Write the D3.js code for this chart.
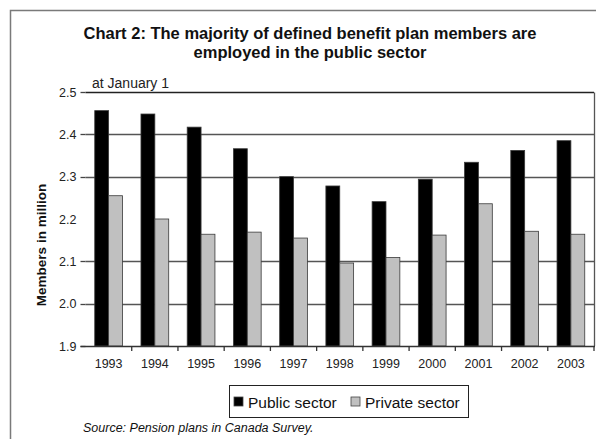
<!DOCTYPE html>
<html>
<head>
<meta charset="utf-8">
<script src="https://cdn.jsdelivr.net/npm/d3@7/dist/d3.min.js"></script>
<style>
  html, body { margin: 0; padding: 0; background: #fff; }
  svg { display: block; font-family: "Liberation Sans", Arial, sans-serif; }
</style>
</head>
<body>
<svg id="chart" width="596" height="439"></svg>
<script>
// Members of defined benefit plans, millions, at January 1
const years = ["1993", "1994", "1995", "1996", "1997", "1998", "1999", "2000", "2001", "2002", "2003"];
const publicSector  = [2.456, 2.448, 2.417, 2.366, 2.300, 2.278, 2.241, 2.294, 2.334, 2.362, 2.385];
const privateSector = [2.255, 2.200, 2.164, 2.169, 2.155, 2.096, 2.109, 2.162, 2.236, 2.171, 2.164];
const seriesNames = ["Public sector", "Private sector"];
const seriesColors = ["#000000", "#c0c0c0"];
const yTicks = [1.9, 2.0, 2.1, 2.2, 2.3, 2.4, 2.5];
const gridValues = [2.0, 2.1, 2.3, 2.4, 2.5];

const svg = d3.select("#chart");
const plot = { left: 85.5, right: 594, top: 92, bottom: 346 };

// outer frame
svg.append("path")
  .attr("d", "M10.5,439 L10.5,10.5 L596,10.5")
  .attr("fill", "none").attr("stroke", "#7a7a7a").attr("stroke-width", 1.5);

// title
const title = svg.append("text")
  .attr("x", 310).attr("text-anchor", "middle")
  .attr("font-weight", "bold").attr("font-size", 16.5).attr("fill", "#111");
title.append("tspan").attr("x", 310).attr("y", 39).text("Chart 2: The majority of defined benefit plan members are");
title.append("tspan").attr("x", 310).attr("y", 58).text("employed in the public sector");

svg.append("text").attr("x", 92).attr("y", 88)
  .attr("font-size", 14).attr("fill", "#222").text("at January 1");

const x0 = d3.scaleBand().domain(years).range([plot.left, plot.right])
  .paddingInner(0.4).paddingOuter(0.2);
const x1 = d3.scaleBand().domain(seriesNames).range([0, x0.bandwidth()]);
const y = d3.scaleLinear().domain([1.9, 2.5]).range([plot.bottom, plot.top]);
const step = x0.step();

// gridlines
svg.append("g").selectAll("line").data(gridValues).join("line")
  .attr("x1", plot.left).attr("x2", plot.right)
  .attr("y1", d => Math.round(y(d)) + 0.5).attr("y2", d => Math.round(y(d)) + 0.5)
  .attr("stroke", d => d === 2.5 ? "#222" : "#555").attr("stroke-width", 1.3);

// right border of plot area
svg.append("line")
  .attr("x1", plot.right + 0.5).attr("x2", plot.right + 0.5)
  .attr("y1", Math.round(y(2.5)) + 0.5).attr("y2", plot.bottom)
  .attr("stroke", "#555").attr("stroke-width", 1.3);

// y axis labels and tick marks
const yAxis = d3.axisLeft(y).tickValues(yTicks).tickFormat(d3.format(".1f")).tickSize(0).tickPadding(9);
const gy = svg.append("g").attr("transform", `translate(${plot.left},0)`).call(yAxis);
gy.select(".domain").remove();
gy.selectAll("text").attr("font-size", 12.5).attr("fill", "#222").attr("font-family", "Liberation Sans, Arial, sans-serif");
svg.append("g").selectAll("line").data(yTicks.filter(v => v !== 2.2)).join("line")
  .attr("x1", plot.left - 5).attr("x2", plot.left)
  .attr("y1", d => Math.round(y(d)) + 0.5).attr("y2", d => Math.round(y(d)) + 0.5)
  .attr("stroke", "#444").attr("stroke-width", 1.3);

svg.append("text")
  .attr("transform", `translate(46,245) rotate(-90)`)
  .attr("text-anchor", "middle").attr("font-weight", "bold").attr("font-size", 13.5)
  .attr("fill", "#111").text("Members in million");

// bars
const rows = years.map((yr, i) => ({ year: yr, values: [publicSector[i], privateSector[i]] }));
const groups = svg.append("g").selectAll("g").data(rows).join("g")
  .attr("transform", d => `translate(${x0(d.year)},0)`);
groups.selectAll("rect").data(d => d.values.map((v, k) => ({ key: seriesNames[k], v, k })))
  .join("rect")
  .attr("x", d => x1(d.key))
  .attr("y", d => y(d.v))
  .attr("width", x1.bandwidth())
  .attr("height", d => y(1.9) - y(d.v))
  .attr("fill", d => seriesColors[d.k])
  .attr("stroke", "#3a3a3a")
  .attr("stroke-width", 0.8);

// x axis
const xAxis = d3.axisBottom(x0).tickSize(0).tickPadding(13);
const gx = svg.append("g").attr("transform", `translate(0,${plot.bottom})`).call(xAxis);
gx.select(".domain").remove();
gx.selectAll("text").attr("font-size", 12.5).attr("fill", "#222").attr("font-family", "Liberation Sans, Arial, sans-serif");
svg.append("line")
  .attr("x1", plot.left - 5).attr("x2", plot.right + 1)
  .attr("y1", plot.bottom + 0.5).attr("y2", plot.bottom + 0.5)
  .attr("stroke", "#333").attr("stroke-width", 1.3);
svg.append("g").selectAll("line").data(years).join("line")
  .attr("x1", d => x0(d) - step * 0.2 + step).attr("x2", d => x0(d) - step * 0.2 + step)
  .attr("y1", plot.bottom).attr("y2", plot.bottom + 5)
  .attr("stroke", "#333").attr("stroke-width", 1.3);

// legend
const legend = svg.append("g");
legend.append("rect").attr("x", 229.5).attr("y", 385.5).attr("width", 239).attr("height", 32)
  .attr("fill", "#fff").attr("stroke", "#222").attr("stroke-width", 1);
const legendX = [234, 351];
seriesNames.forEach((name, k) => {
  legend.append("rect").attr("x", legendX[k]).attr("y", 397).attr("width", 9).attr("height", 9)
    .attr("fill", seriesColors[k]).attr("stroke", "#444").attr("stroke-width", 0.8);
  legend.append("text").attr("x", legendX[k] + 14).attr("y", 407.5)
    .attr("font-size", 15.5).attr("fill", "#111").text(name);
});

svg.append("text").attr("x", 83).attr("y", 432)
  .attr("font-size", 12.5).attr("font-style", "italic").attr("fill", "#111")
  .text("Source: Pension plans in Canada Survey.");
</script>
</body>
</html>
